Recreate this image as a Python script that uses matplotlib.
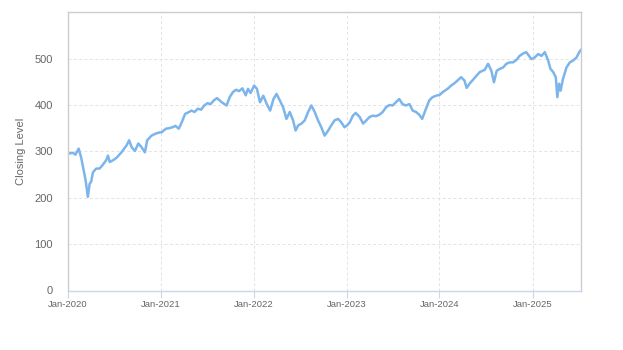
import matplotlib.pyplot as plt
import matplotlib.dates as mdates
import pandas as pd

# closing level, read roughly every two weeks
dates = [
    "2020-01-02", "2020-01-22", "2020-02-01", "2020-02-14", "2020-02-24", "2020-03-02",
    "2020-03-12", "2020-03-21", "2020-03-28", "2020-04-03", "2020-04-10", "2020-04-23",
    "2020-05-06", "2020-05-17", "2020-06-01", "2020-06-08", "2020-06-15", "2020-06-28",
    "2020-07-11", "2020-07-31", "2020-08-20", "2020-08-30", "2020-09-09", "2020-09-22",
    "2020-10-05", "2020-10-18", "2020-10-31", "2020-11-09", "2020-11-26", "2020-12-15",
    "2020-12-29",
    "2021-01-04", "2021-01-22", "2021-02-03", "2021-02-16", "2021-02-28", "2021-03-13",
    "2021-03-25", "2021-04-07", "2021-04-19", "2021-05-02", "2021-05-14", "2021-05-27",
    "2021-06-09", "2021-06-21", "2021-07-04", "2021-07-16", "2021-07-29", "2021-08-10",
    "2021-08-29", "2021-09-17", "2021-09-29", "2021-10-12", "2021-10-24", "2021-11-05",
    "2021-11-18", "2021-12-01", "2021-12-10", "2021-12-20",
    "2022-01-03", "2022-01-14", "2022-01-26", "2022-02-08", "2022-02-22", "2022-03-07",
    "2022-03-20", "2022-04-01", "2022-04-14", "2022-04-27", "2022-05-10", "2022-05-23",
    "2022-06-05", "2022-06-15", "2022-06-25", "2022-07-08", "2022-07-21", "2022-08-03",
    "2022-08-16", "2022-08-29", "2022-09-11", "2022-09-24", "2022-10-07", "2022-10-21",
    "2022-11-02", "2022-11-15", "2022-11-29", "2022-12-11", "2022-12-24",
    "2023-01-03", "2023-01-14", "2023-01-26", "2023-02-06", "2023-02-22", "2023-03-07",
    "2023-03-20", "2023-04-01", "2023-04-14", "2023-04-27", "2023-05-10", "2023-05-23",
    "2023-06-05", "2023-06-18", "2023-07-01", "2023-07-14", "2023-07-27", "2023-08-09",
    "2023-08-22", "2023-09-05", "2023-09-18", "2023-10-01", "2023-10-14", "2023-10-25",
    "2023-11-09", "2023-11-22", "2023-12-05", "2023-12-18",
    "2024-01-02", "2024-01-14", "2024-02-02", "2024-02-16", "2024-02-29", "2024-03-12",
    "2024-03-26", "2024-04-08", "2024-04-17", "2024-04-28", "2024-05-11", "2024-05-25",
    "2024-06-07", "2024-06-27", "2024-07-10", "2024-07-23", "2024-08-02", "2024-08-13",
    "2024-08-25", "2024-09-07", "2024-09-20", "2024-10-03", "2024-10-16", "2024-10-29",
    "2024-11-11", "2024-11-24", "2024-12-07", "2024-12-18", "2024-12-27",
    "2025-01-10", "2025-01-23", "2025-02-05", "2025-02-18", "2025-03-03", "2025-03-12",
    "2025-03-23", "2025-04-02", "2025-04-08", "2025-04-15", "2025-04-21", "2025-04-30",
    "2025-05-14", "2025-05-27", "2025-06-09", "2025-06-23", "2025-07-03", "2025-07-10",
]
closing = [
    295, 297, 293, 306, 286, 266,
    238, 202, 230, 235, 255, 263,
    263, 270, 281, 291, 277, 281,
    286, 298, 313, 324, 309, 301,
    317, 309, 298, 324, 334, 339,
    341,
    341, 349, 350, 352, 355, 349,
    363, 381, 384, 388, 385, 392,
    390, 399, 404, 402, 410, 415,
    406, 399, 417, 428, 433, 430,
    436, 421, 435, 426,
    442, 435, 406, 420, 402, 388,
    413, 424, 410, 395, 370, 385,
    367, 345, 356, 360, 367, 385,
    399, 385, 367, 352, 334, 345,
    356, 367, 370, 363, 352,
    356, 363, 377, 383, 374, 360,
    367, 374, 377, 376, 379, 385,
    395, 400, 399, 406, 413, 402,
    399, 402, 388, 385, 379, 370,
    392, 410, 417, 420,
    422, 428, 435, 442, 447, 453,
    460, 453, 437, 446, 454, 463,
    471, 476, 489, 474, 449, 474,
    478, 481, 489, 492, 492, 497,
    506, 511, 514, 506, 499,
    503, 510, 506, 514, 496, 478,
    471, 460, 417, 446, 431, 456,
    481, 492, 496, 503, 514, 519,
]
y_ticks = [0, 100, 200, 300, 400, 500]

df = pd.DataFrame({"date": pd.to_datetime(dates), "close": closing})

plt.rcParams["font.family"] = ["Liberation Sans", "DejaVu Sans"]

fig = plt.figure(figsize=(6.23, 3.5), dpi=100)
ax = fig.add_axes([67.5 / 623, 1 - 290.5 / 350, (581 - 67.5) / 623, (290.5 - 12.3) / 350])

ax.plot(df["date"], df["close"], color="#7cb5ec", linewidth=1.8, solid_joinstyle="round")

ax.set_xlim(pd.Timestamp("2020-01-01"), pd.Timestamp("2025-07-10"))
ax.set_ylim(0, 600)
ax.set_yticks(y_ticks)
ax.xaxis.set_major_locator(mdates.YearLocator())
ax.xaxis.set_major_formatter(mdates.DateFormatter("%b-%Y"))

# light dashed grid in both directions
ax.grid(True, color="#e3e3e3", linestyle=(0, (3, 2.5)), linewidth=0.7)
ax.set_axisbelow(True)

for side in ["left", "top", "right"]:
    ax.spines[side].set_color("#cccccc")
    ax.spines[side].set_linewidth(1)
ax.spines["bottom"].set_color("#ccd6eb")
ax.spines["bottom"].set_linewidth(1)

ax.tick_params(axis="y", length=0, pad=10.5, labelsize=8, labelcolor="#666666")
ax.tick_params(axis="x", length=5, color="#ccd6eb", pad=2, labelsize=6.8, labelcolor="#666666")
ax.set_ylabel("Closing Level", fontsize=8, color="#666666", labelpad=6)

fig.savefig("out.png", dpi=100)
